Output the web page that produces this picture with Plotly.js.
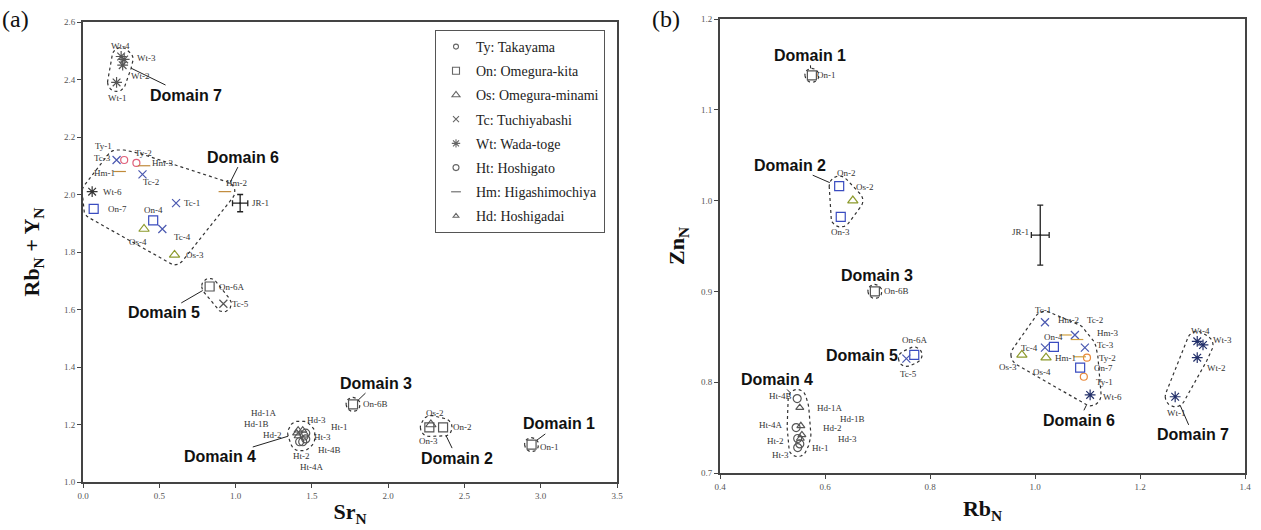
<!DOCTYPE html>
<html><head><meta charset="utf-8">
<script src="https://cdn.plot.ly/plotly-3.0.1.min.js"></script>
<style>html,body{margin:0;padding:0;background:#fff}#chart{width:1261px;height:530px}</style>
</head><body><div id="chart"></div>
<script>
// ---------------- DATA ----------------
const sampleIds    = ['On-1','On-2','Os-2','On-3','On-6B','Hd-1A','Hd-1B','Hd-2','Hd-3','Ht-1','Ht-2','Ht-3','Ht-4A','Ht-4B','On-6A','Tc-5','Ty-1','Ty-2','Tc-1','Tc-2','Tc-3','Tc-4','Hm-1','Hm-2','Hm-3','On-4','On-7','Os-3','Os-4','Wt-6','Wt-1','Wt-2','Wt-3','Wt-4'];
const sampleGroup  = ['On','On','Os','On','On','Hd','Hd','Hd','Hd','Ht','Ht','Ht','Ht','Ht','On','Tc','Ty','Ty','Tc','Tc','Tc','Tc','Hm','Hm','Hm','On','On','Os','Os','Wt','Wt','Wt','Wt','Wt'];
const sampleDomain = [1,2,2,2,3,4,4,4,4,4,4,4,4,4,5,5,6,6,6,6,6,6,6,6,6,6,6,6,6,6,7,7,7,7];
// panel (a)
const srN  = [2.94,2.36,2.28,2.27,1.77,1.41,1.40,1.41,1.44,1.46,1.42,1.45,1.44,1.46,0.83,0.92,0.27,0.35,0.61,0.39,0.22,0.52,0.24,0.93,0.40,0.46,0.07,0.60,0.40,0.06,0.22,0.26,0.27,0.25];
const rbyN = [1.13,1.19,1.20,1.19,1.27,1.18,1.17,1.16,1.18,1.17,1.14,1.16,1.14,1.15,1.68,1.62,2.12,2.11,1.97,2.07,2.12,1.88,2.08,2.01,2.10,1.91,1.95,1.79,1.88,2.01,2.39,2.45,2.47,2.48];
// panel (b)
const rbN  = [0.575,0.627,0.653,0.630,0.695,0.552,0.554,0.556,0.553,0.552,0.548,0.548,0.545,0.547,0.770,0.755,1.093,1.099,1.019,1.076,1.095,1.019,1.085,1.058,1.080,1.036,1.086,0.975,1.021,1.105,1.267,1.309,1.320,1.309];
const znN  = [1.138,1.016,1.000,0.982,0.900,0.772,0.752,0.742,0.738,0.732,0.738,0.728,0.750,0.782,0.830,0.826,0.806,0.827,0.866,0.852,0.838,0.838,0.828,0.852,0.847,0.839,0.816,0.830,0.827,0.786,0.784,0.827,0.841,0.845];
// reference standard JR-1 with error bars
const refId = 'JR-1';
const refSrN = [1.03], refRbyN = [1.97], refSrErr = [0.05], refRbyErr = [0.03];
const refRbN = [1.01], refZnN = [0.962], refRbErr = [0.017], refZnErr = [0.033];
// legend groups
const groupCodes = ['Ty','On','Os','Tc','Wt','Ht','Hm','Hd'];
const groupNames = ['Ty: Takayama','On: Omegura-kita','Os: Omegura-minami','Tc: Tuchiyabashi','Wt: Wada-toge','Ht: Hoshigato','Hm: Higashimochiya','Hd: Hoshigadai'];
const domainIds = [1,2,3,4,5,6,7];

// ---------------- STYLE ----------------
const serif = 'Liberation Serif, Times New Roman, serif';
const sans = 'Liberation Sans, Arial, sans-serif';
const groupSymbol = {Ty:'circle-open',On:'square-open',Os:'triangle-up-open',Tc:'x-thin-open',Wt:'asterisk-open',Ht:'circle-open',Hm:'line-ew-open',Hd:'triangle-up-open'};
const groupSize   = {Ty:7,On:9,Os:9,Tc:8,Wt:9,Ht:8,Hm:9,Hd:7};
const groupColorA = {Ty:'#e0607a',On:'#3a4cc0',Os:'#8c9a2c',Tc:'#4a58b0',Wt:'#333',Ht:'#555',Hm:'#c08a3a',Hd:'#555'};
const groupColorB = {Ty:'#ea8a3c',On:'#3a4cc0',Os:'#8c9a2c',Tc:'#4a58b0',Wt:'#23306a',Ht:'#555',Hm:'#d0a040',Hd:'#555'};
const coloredDomainsA = [6];
const coloredDomainsB = [2,5,6,7];
const greyMark = '#555';
const padA = {1:7,2:9,3:7,4:9,5:8,6:10,7:9};
const padB = {1:7,2:10,3:7,4:9,5:8,6:11,7:10};
// label offsets in px [dx, dy(down)]
const labelOffA = {'On-1':[18,2],'On-2':[19,0],'Os-2':[4,-12],'On-3':[-1,14],'On-6B':[22,0],
 'Hd-1A':[-35,-17],'Hd-1B':[-40,-9],'Hd-2':[-26,-1],'Hd-3':[14,-10],'Ht-1':[34,-6],'Ht-2':[2,14],'Ht-3':[18,1],'Ht-4A':[9,25],'Ht-4B':[24,11],
 'On-6A':[22,0],'Tc-5':[17,0],
 'Ty-1':[-21,-14],'Ty-2':[7,-10],'Tc-1':[16,0],'Tc-2':[8,8],'Tc-3':[-14,-2],'Tc-4':[20,8],'Hm-1':[-15,1],'Hm-2':[12,-9],'Hm-3':[18,-3],'On-4':[0,-10],'On-7':[24,0],'Os-3':[20,0],'Os-4':[-6,13],'Wt-6':[20,0],
 'Wt-1':[1,16],'Wt-2':[18,11],'Wt-3':[22,-1],'Wt-4':[-1,-11]};
const labelOffB = {'On-1':[15,0],'On-2':[7,-13],'Os-2':[12,-14],'On-3':[0,15],'On-6B':[22,0],
 'Ht-4B':[-17,-3],'Hd-1A':[30,0],'Hd-1B':[52,-7],'Ht-4A':[-26,-3],'Hd-2':[31,-7],'Hd-3':[47,0],'Ht-2':[-22,2],'Ht-1':[21,4],'Ht-3':[-17,7],
 'On-6A':[0,-15],'Tc-5':[2,15],
 'Tc-1':[-2,-12],'Hm-2':[3,-15],'Tc-2':[20,-15],'Hm-3':[30,-7],'Tc-3':[21,-3],'Ty-2':[21,0],'Hm-1':[-14,1],'On-7':[23,0],'Ty-1':[21,5],'Wt-6':[22,2],'On-4':[0,-10],'Tc-4':[-15,0],'Os-4':[-4,14],'Os-3':[-14,12],
 'Wt-4':[3,-10],'Wt-3':[19,-5],'Wt-2':[19,10],'Wt-1':[1,16]};
// domain label text centres (axis units)
const domTextA = {1:[3.119,1.202],2:[2.451,1.083],3:[1.920,1.344],4:[0.898,1.087],5:[0.531,1.588],6:[1.048,2.130],7:[0.675,2.346]};
const domTextB = {1:[0.571,1.160],2:[0.533,1.039],3:[0.699,0.918],4:[0.509,0.803],5:[0.670,0.829],6:[1.084,0.758],7:[1.301,0.742]};

// ---------------- GEOMETRY ----------------
const W = 1261, H = 530;
const M = {l:83, r:14, t:19, b:48};
const PW = W - M.l - M.r, PH = H - M.t - M.b;
const domXA = [0, (617-83)/PW], domYA = [0, (482-22)/PH];
const domXB = [(720-83)/PW, (1245-83)/PW], domYB = [(482-473)/PH, 1];
const rangeXA = [0, 3.5], rangeYA = [1.0, 2.6];
const rangeXB = [0.4, 1.4], rangeYB = [0.7, 1.2];
const pxA = {sx:(domXA[1]-domXA[0])*PW/(rangeXA[1]-rangeXA[0]), sy:(domYA[1]-domYA[0])*PH/(rangeYA[1]-rangeYA[0])};
const pxB = {sx:(domXB[1]-domXB[0])*PW/(rangeXB[1]-rangeXB[0]), sy:(domYB[1]-domYB[0])*PH/(rangeYB[1]-rangeYB[0])};

function hull(pts){
  pts = pts.slice().sort((a,b)=>a[0]-b[0]||a[1]-b[1]);
  const cross=(o,a,b)=>(a[0]-o[0])*(b[1]-o[1])-(a[1]-o[1])*(b[0]-o[0]);
  const lo=[],up=[];
  for(const p of pts){while(lo.length>=2&&cross(lo[lo.length-2],lo[lo.length-1],p)<=0)lo.pop();lo.push(p);}
  for(let i=pts.length-1;i>=0;i--){const p=pts[i];while(up.length>=2&&cross(up[up.length-2],up[up.length-1],p)<=0)up.pop();up.push(p);}
  up.pop();lo.pop();return lo.concat(up);
}
function outline(xs, ys, sc, pad){
  const pts=[];
  for(let i=0;i<xs.length;i++){
    const cx=xs[i]*sc.sx, cy=ys[i]*sc.sy;
    for(let k=0;k<36;k++){const t=k/36*2*Math.PI;pts.push([cx+pad*Math.cos(t),cy+pad*Math.sin(t)]);}
  }
  const h=hull(pts); h.push(h[0]);
  return h.map(p=>[p[0]/sc.sx,p[1]/sc.sy]);
}

const traces=[], annotations=[];
function buildPanel(xv, yv, xa, ya, sc, pads, colorMap, colored, labelOff, domText){
  const xr = xa==='x'?'x':'x2', yr = ya==='y'?'y':'y2';
  domainIds.forEach(d=>{
    const xs=[],ys=[];
    sampleIds.forEach((id,i)=>{if(sampleDomain[i]===d){xs.push(xv[i]);ys.push(yv[i]);}});
    const ol=outline(xs,ys,sc,pads[d]);
    traces.push({type:'scatter',mode:'lines',x:ol.map(p=>p[0]),y:ol.map(p=>p[1]),xaxis:xa,yaxis:ya,
      line:{color:'#333',width:1.2,dash:'dot'},hoverinfo:'skip',showlegend:false});
    const t=domText[d];
    let best=null,bd=1e9;
    ol.forEach(p=>{const dx=(p[0]-t[0])*sc.sx,dy=(p[1]-t[1])*sc.sy;const dd=dx*dx+dy*dy;if(dd<bd){bd=dd;best=p;}});
    annotations.push({x:best[0],y:best[1],xref:xr,yref:yr,ax:t[0],ay:t[1],axref:xr,ayref:yr,
      text:'Domain '+d,showarrow:true,arrowhead:0,arrowwidth:1,arrowcolor:'#222',standoff:0,
      font:{family:sans,size:16,color:'#111',weight:'bold'}});
  });
  groupCodes.forEach((g,gi)=>{
    const x=[],y=[],c=[],tx=[];
    sampleIds.forEach((id,i)=>{if(sampleGroup[i]===g){x.push(xv[i]);y.push(yv[i]);tx.push(id);
      c.push(colored.includes(sampleDomain[i])?colorMap[g]:greyMark);}});
    traces.push({type:'scatter',mode:'markers',x,y,text:tx,xaxis:xa,yaxis:ya,name:groupNames[gi],legendgroup:g,showlegend:false,
      marker:{symbol:groupSymbol[g],size:groupSize[g],color:c,line:{width:1.2,color:c}},hovertemplate:'%{text}<extra></extra>'});
  });
  sampleIds.forEach((id,i)=>{
    const o=labelOff[id]||[14,0];
    annotations.push({x:xv[i],y:yv[i],xref:xr,yref:yr,text:id,showarrow:false,xshift:o[0],yshift:-o[1],
      font:{family:serif,size:9,color:'#333'}});
  });
}
buildPanel(srN,rbyN,'x','y',pxA,padA,groupColorA,coloredDomainsA,labelOffA,domTextA);
buildPanel(rbN,znN,'x2','y2',pxB,padB,groupColorB,coloredDomainsB,labelOffB,domTextB);

traces.push({type:'scatter',mode:'markers',x:refSrN,y:refRbyN,xaxis:'x',yaxis:'y',showlegend:false,name:refId,
  marker:{size:2,color:'#222'},error_x:{type:'data',array:refSrErr,color:'#222',thickness:1.3,width:3},
  error_y:{type:'data',array:refRbyErr,color:'#222',thickness:1.3,width:3}});
traces.push({type:'scatter',mode:'markers',x:refRbN,y:refZnN,xaxis:'x2',yaxis:'y2',showlegend:false,name:refId,
  marker:{size:2,color:'#222'},error_x:{type:'data',array:refRbErr,color:'#222',thickness:1.3,width:3},
  error_y:{type:'data',array:refZnErr,color:'#222',thickness:1.3,width:3}});
annotations.push({x:refSrN[0],y:refRbyN[0],xref:'x',yref:'y',text:refId,showarrow:false,xshift:20,yshift:0,font:{family:serif,size:9,color:'#333'}});
annotations.push({x:refRbN[0],y:refZnN[0],xref:'x2',yref:'y2',text:refId,showarrow:false,xshift:-20,yshift:3,font:{family:serif,size:9,color:'#333'}});

groupCodes.forEach((g,gi)=>{
  traces.push({type:'scatter',mode:'markers',x:[null],y:[null],xaxis:'x',yaxis:'y',name:groupNames[gi],legendgroup:g,showlegend:true,
    marker:{symbol:groupSymbol[g],size:groupSize[g]-2,color:'#666',line:{width:1.1,color:'#666'}}});
});

annotations.push({x:-0.071,y:1.0,xref:'paper',yref:'paper',text:'(a)',showarrow:false,xanchor:'left',yanchor:'middle',font:{family:serif,size:24,color:'#111'}});
annotations.push({x:0.487,y:1.0,xref:'paper',yref:'paper',text:'(b)',showarrow:false,xanchor:'left',yanchor:'middle',font:{family:serif,size:24,color:'#111'}});

const axisCommon = {showline:true,linecolor:'#444',linewidth:2,mirror:true,ticks:'outside',ticklen:4,tickwidth:1,tickcolor:'#444',
  showgrid:false,zeroline:false,tickfont:{family:serif,size:9,color:'#555'},tickformat:'.1f'};
const titleFont = {family:serif,size:22,color:'#111'};
const layout = {
  width:W,height:H,margin:M,paper_bgcolor:'#fff',plot_bgcolor:'#fff',hovermode:'closest',
  xaxis:Object.assign({},axisCommon,{domain:domXA,range:rangeXA,dtick:0.5,anchor:'y',
    title:{text:'<b>Sr<sub>N</sub></b>',font:titleFont,standoff:4}}),
  yaxis:Object.assign({},axisCommon,{domain:domYA,range:rangeYA,dtick:0.2,anchor:'x',
    title:{text:'<b>Rb<sub>N</sub> + Y<sub>N</sub></b>',font:titleFont,standoff:18}}),
  xaxis2:Object.assign({},axisCommon,{domain:domXB,range:rangeXB,dtick:0.2,anchor:'y2',
    title:{text:'<b>Rb<sub>N</sub></b>',font:titleFont,standoff:10}}),
  yaxis2:Object.assign({},axisCommon,{domain:domYB,range:rangeYB,dtick:0.1,anchor:'x2',
    title:{text:'<b>Zn<sub>N</sub></b>',font:titleFont,standoff:10}}),
  showlegend:true,
  legend:{x:(435-M.l)/PW,y:(482-30)/PH,xanchor:'left',yanchor:'top',bgcolor:'#fff',bordercolor:'#555',borderwidth:1,
    font:{family:serif,size:14,color:'#222'},tracegroupgap:3,itemwidth:30},
  annotations
};
Plotly.newPlot('chart',traces,layout,{displayModeBar:false});
</script></body></html>
